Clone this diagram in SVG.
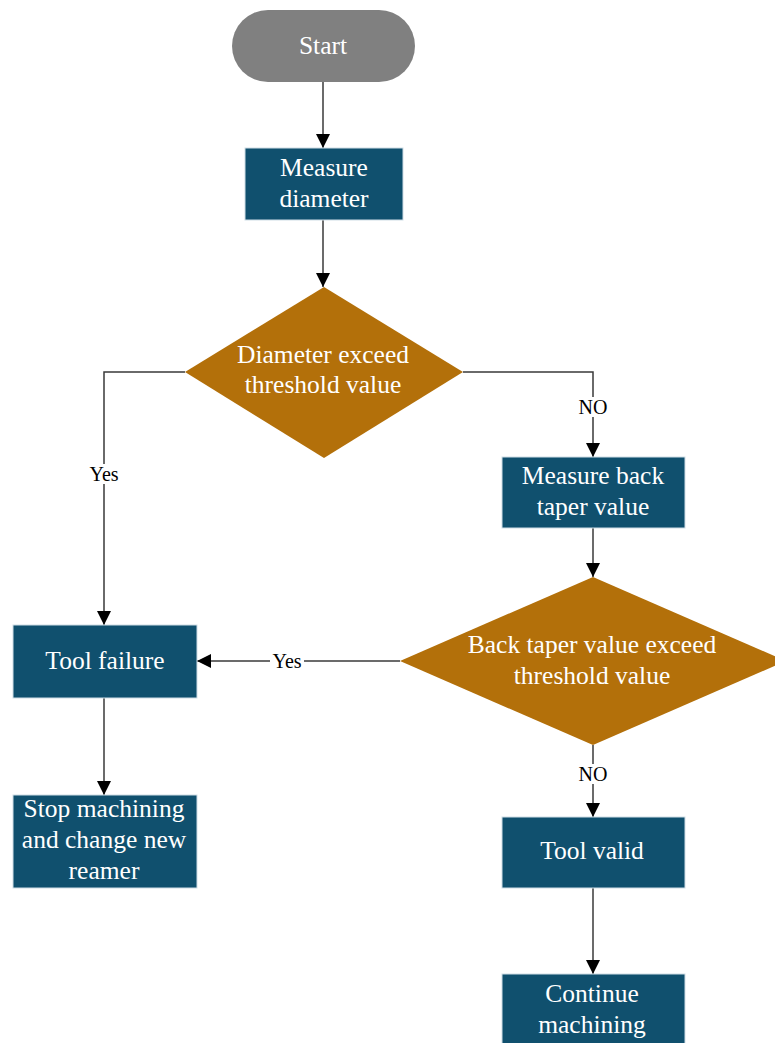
<svg xmlns="http://www.w3.org/2000/svg" width="775" height="1043" viewBox="0 0 775 1043">
<defs>
<style>
.box{fill:#10506e;stroke:#cfdde6;stroke-width:1}
.dec{fill:#b3700a}
.term{fill:#808080}
.t{font-family:"Liberation Serif","Times New Roman",serif;font-size:25.5px;fill:#ffffff;text-anchor:middle}
.lbl{font-family:"Liberation Serif","Times New Roman",serif;font-size:20px;fill:#000000;text-anchor:middle}
.ln{fill:none;stroke:#3a3a3a;stroke-width:1.5}
.lb{fill:#ffffff}
</style>
<marker id="arr" viewBox="0 0 10 10" refX="10" refY="5" markerWidth="14" markerHeight="14" markerUnits="userSpaceOnUse" orient="auto">
<path d="M0,0 L10,5 L0,10 z" fill="#000000"/>
</marker>
</defs>
<rect width="775" height="1043" fill="#ffffff"/>
<g id="connectors">
<path class="ln" d="M323,82 V148" marker-end="url(#arr)"/>
<path class="ln" d="M323,220 V287" marker-end="url(#arr)"/>
<path class="ln" d="M185,372 H104 V625" marker-end="url(#arr)"/>
<path class="ln" d="M463,372 H593 V457" marker-end="url(#arr)"/>
<path class="ln" d="M593,528 V577" marker-end="url(#arr)"/>
<path class="ln" d="M400,661 H197" marker-end="url(#arr)"/>
<path class="ln" d="M104,698 V795" marker-end="url(#arr)"/>
<path class="ln" d="M593,745 V817" marker-end="url(#arr)"/>
<path class="ln" d="M593,888 V974" marker-end="url(#arr)"/>
<rect class="lb" x="86" y="464" width="36" height="20"/>
<text class="lbl" x="104" y="481">Yes</text>
<rect class="lb" x="576" y="397" width="34" height="20"/>
<text class="lbl" x="593" y="414">NO</text>
<rect class="lb" x="270" y="652" width="34" height="18"/>
<text class="lbl" x="287" y="668">Yes</text>
<rect class="lb" x="576" y="764" width="34" height="20"/>
<text class="lbl" x="593" y="781">NO</text>
</g>
<g id="start">
<rect class="term" x="232" y="10" width="183" height="72" rx="36" ry="36"/>
<text class="t" x="323" y="54">Start</text>
</g>
<g id="measure-diameter">
<rect class="box" x="245" y="148" width="158" height="72"/>
<text class="t" x="324" y="176">Measure</text>
<text class="t" x="324" y="207">diameter</text>
</g>
<g id="decision-diameter">
<polygon class="dec" points="324,287 463,372 324,458 185,372"/>
<text class="t" x="323" y="363">Diameter exceed</text>
<text class="t" x="323" y="393">threshold value</text>
</g>
<g id="measure-back-taper">
<rect class="box" x="502" y="457" width="183" height="71"/>
<text class="t" x="593" y="484">Measure back</text>
<text class="t" x="593" y="515">taper value</text>
</g>
<g id="decision-back-taper">
<polygon class="dec" points="593,577 786,661 593,745 400,661"/>
<text class="t" x="592" y="653">Back taper value exceed</text>
<text class="t" x="592" y="684">threshold value</text>
</g>
<g id="tool-failure">
<rect class="box" x="13" y="625" width="184" height="73"/>
<text class="t" x="105" y="669">Tool failure</text>
</g>
<g id="stop-machining">
<rect class="box" x="13" y="795" width="184" height="93"/>
<text class="t" x="104" y="817">Stop machining</text>
<text class="t" x="104" y="848">and change new</text>
<text class="t" x="104" y="879">reamer</text>
</g>
<g id="tool-valid">
<rect class="box" x="502" y="817" width="183" height="71"/>
<text class="t" x="592" y="859">Tool valid</text>
</g>
<g id="continue-machining">
<rect class="box" x="502" y="974" width="183" height="74"/>
<text class="t" x="592" y="1002">Continue</text>
<text class="t" x="592" y="1033">machining</text>
</g>
</svg>
